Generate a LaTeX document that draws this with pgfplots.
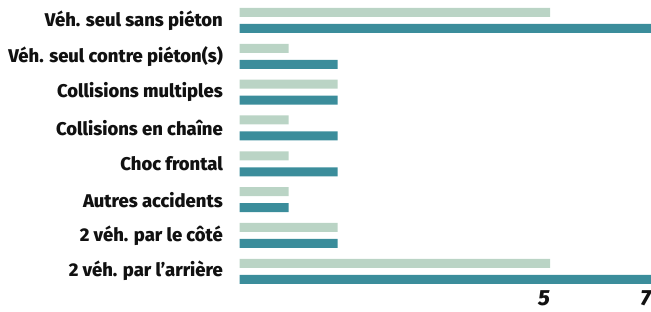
\documentclass[border=0pt]{standalone}
\usepackage{pgfplots}
\pgfplotsset{compat=1.18}
\usepackage{fontspec}
\setmainfont{Fira Sans}[BoldFont={Fira Sans ExtraBold}, BoldItalicFont={Fira Sans ExtraBold Italic}]
\definecolor{lightbar}{HTML}{BAD4C5}
\definecolor{darkbar}{HTML}{3B8D9B}
\definecolor{txt}{HTML}{111111}
\begin{document}
\begin{tikzpicture}
\path[use as bounding box] (0,0) rectangle (651bp,312bp);
\begin{axis}[
  at={(239.5bp,22bp)}, anchor=south west,
  scale only axis, width=411.5bp, height=290bp,
  xbar, bar width=9bp,
  xmin=0, xmax=7, ymin=-0.523, ymax=7.572,
  x coord trafo/.code={\pgfmathparse{(#1<=2) ? 49*#1 : ((#1<=5) ? 98+(#1-2)*70.8333 : 310.5+(#1-5)*50.5)}},
  axis line style={draw=none},
  major tick length=0pt,
  xtick={5,7}, xticklabels={5,7},
  xticklabel style={anchor=north east, inner sep=0pt, yshift=0bp, font=\fontsize{22}{24}\selectfont\bfseries\itshape, text=txt},
  ytick={0,...,7},
  yticklabels={2 véh. par l’arrière, 2 véh. par le côté, Autres accidents, Choc frontal, Collisions en chaîne, Collisions multiples, Véh. seul contre piéton(s), Véh. seul sans piéton},
  yticklabel style={anchor=east, inner sep=0pt, xshift=-16.5bp, font=\fontsize{18.5}{20}\selectfont\bfseries, text=txt},
  clip=false,
]
\addplot[fill=lightbar, draw=none, bar shift=8bp] coordinates {(5,0) (2,1) (1,2) (1,3) (1,4) (2,5) (1,6) (5,7)};
\addplot[fill=darkbar, draw=none, bar shift=-8bp] coordinates {(7,0) (2,1) (1,2) (2,3) (2,4) (2,5) (2,6) (7,7)};
\end{axis}
\end{tikzpicture}
\end{document}
